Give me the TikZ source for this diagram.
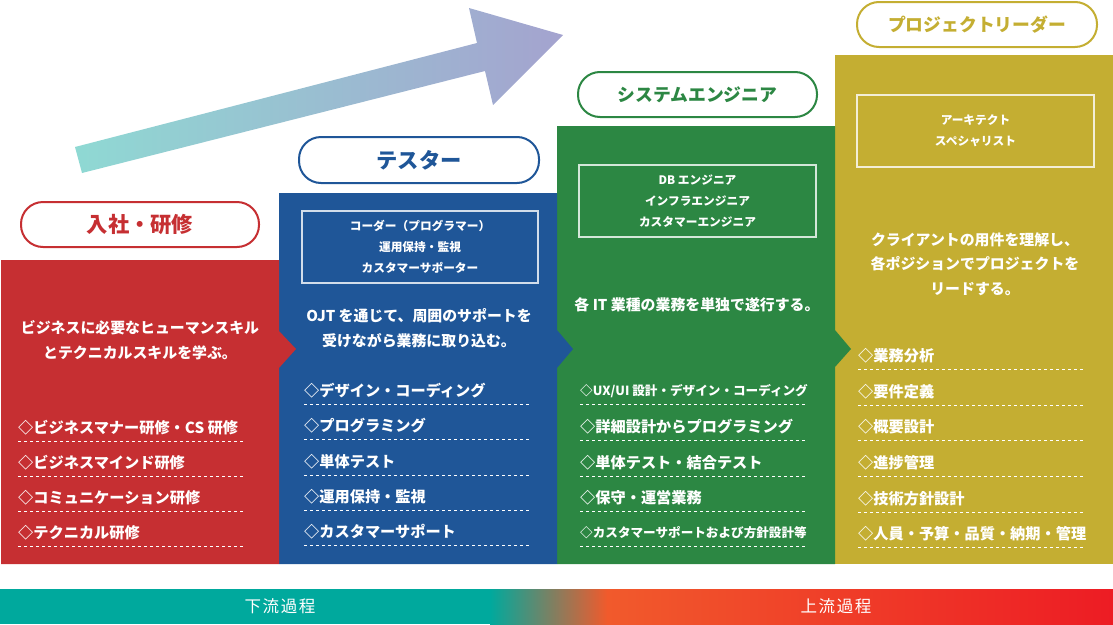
\documentclass[tikz,border=0pt]{standalone}
\usepackage{fontspec}
\setmainfont{Noto Sans CJK JP}
\newcommand\myfs[2]{\fontsize{#1}{#2}\selectfont}
\definecolor{cred}{HTML}{C62F32}
\definecolor{cblue}{HTML}{1F5698}
\definecolor{cgreen}{HTML}{2C8743}
\definecolor{cgold}{HTML}{C4AE32}
\definecolor{ateal}{HTML}{8FD9D3}
\definecolor{alav}{HTML}{A4A3CF}
\definecolor{bteal}{HTML}{00A99D}
\definecolor{borange}{HTML}{F15A2C}
\definecolor{bred}{HTML}{ED1C24}
\tikzset{
  pill/.style={draw=#1, text=#1, fill=white, line width=2pt, rounded corners=22pt,
    minimum width=238pt, minimum height=45pt, inner sep=0pt},
  ibox/.style={draw=white, draw opacity=0.8, line width=1.2pt, minimum width=236pt, minimum height=72pt,
    text=white, align=center, font=\bfseries\myfs{11.7}{21}, inner sep=0pt},
  body/.style={text=white, align=center, font=\bfseries\myfs{14.9}{24.5}, inner sep=0pt},
  itm/.style={text=white, anchor=west, font=\bfseries\myfs{15.2}{18}, inner sep=0pt},
  itms/.style={text=white, anchor=west, font=\bfseries\myfs{12.6}{15}, inner sep=0pt},
  dotline/.style={draw=white, line width=1.5pt, dash pattern=on 3pt off 3pt},
  bartext/.style={text=white, font=\addfontfeature{LetterSpace=10}\myfs{16.5}{18}, inner sep=0pt}
}
\begin{document}
\begin{tikzpicture}[x=1pt,y=-1pt]
\useasboundingbox (0,0) rectangle (1113,624);
% big arrow
\shade[left color=ateal, right color=alav]
  (75,147) -- (477,43) -- (469,8) -- (563,35) -- (493,105) -- (485,71) -- (82,173) -- cycle;
% columns (right to left so chevrons overlay)
\fill[cgold] (835,55) rectangle (1113,564);
\fill[cgreen] (557,126) -- (835,126) -- (835,330) -- (851,349) -- (835,367) -- (835,564) -- (557,564) -- cycle;
\fill[cblue] (279,193) -- (557,193) -- (557,330) -- (573,349) -- (557,368) -- (557,564) -- (279,564) -- cycle;
\fill[cred] (1,260) -- (279,260) -- (279,331) -- (296,349) -- (279,368) -- (279,564) -- (1,564) -- cycle;
% pills
\node[pill=cred, font=\bfseries\myfs{21.3}{24}] (p1) at (140,224.5) {入社・研修};
\node[pill=cblue, font=\bfseries\myfs{21.3}{24}, minimum width=240pt, minimum height=46pt] (p2) at (419,160) {テスター};
\node[pill=cgreen, font=\bfseries\myfs{17.8}{22}, minimum width=239pt] (p3) at (697.5,94.5) {システムエンジニア};
\node[pill=cgold, font=\bfseries\myfs{17.8}{22}, minimum width=240pt] (p4) at (977,24.5) {プロジェクトリーダー};
% inner boxes
\node[ibox] (b2) at (420,247) {コーダー（プログラマー）\\運用保持・監視\\カスタマーサポーター};
\node[ibox, minimum width=237pt] (b3) at (697.5,201) {DB エンジニア\\インフラエンジニア\\カスタマーエンジニア};
\node[ibox, minimum width=237pt] (b4) at (975.5,131) {アーキテクト\\スペシャリスト};
% body texts
\node[body] (t1) at (140,340) {ビジネスに必要なヒューマンスキル\\とテクニカルスキルを学ぶ。};
\node[body] (t2) at (419,328) {OJT を通じて、周囲のサポートを\\受けながら業務に取り込む。};
\node[body] (t3) at (697,305) {各 IT 業種の業務を単独で遂行する。};
\node[body] (t4) at (975,264) {クライアントの用件を理解し、\\各ポジションでプロジェクトを\\リードする。};
% red items
\foreach \y/\t [count=\i] in {428/{◇ビジネスマナー研修・CS 研修},463/{◇ビジネスマインド研修},498/{◇コミュニケーション研修},533/{◇テクニカル研修}}{
  \node[itm] (r\i) at (18,\y) {\t};
  \draw[dotline] (18,\y+13.5) -- (243,\y+13.5);
}
% blue items
\foreach \y/\t [count=\i] in {391/{◇デザイン・コーディング},426/{◇プログラミング},462/{◇単体テスト},497/{◇運用保持・監視},532/{◇カスタマーサポート}}{
  \node[itm] (u\i) at (304,\y) {\t};
  \draw[dotline] (304,\y+13.5) -- (530,\y+13.5);
}
% green items
\node[itms] (g1) at (580,391) {◇UX/UI 設計・デザイン・コーディング};
\node[itm] (g2) at (580,427) {◇詳細設計からプログラミング};
\node[itm] (g3) at (580,463) {◇単体テスト・結合テスト};
\node[itm] (g4) at (580,498) {◇保守・運営業務};
\node[itms] (g5) at (580,533) {◇カスタマーサポートおよび方針設計等};
\foreach \y in {391,427,463,498,533}{
  \draw[dotline] (580,\y+13.5) -- (806,\y+13.5);
}
% gold items
\foreach \y/\t [count=\i] in {356/{◇業務分析},392/{◇要件定義},427/{◇概要設計},463/{◇進捗管理},499/{◇技術方針設計},534/{◇人員・予算・品質・納期・管理}}{
  \node[itm] (o\i) at (858,\y) {\t};
  \draw[dotline] (858,\y+13.5) -- (1083,\y+13.5);
}
% bottom bar
\fill[bteal] (0,589) rectangle (490.5,624);
\shade[left color=bteal, right color=borange] (490,589) rectangle (607.5,624);
\shade[left color=borange, right color=bred] (607,589) rectangle (1113,624);
\node[bartext] (d1) at (280,606.5) {下流過程};
\node[bartext] (d2) at (836,606.5) {上流過程};
\end{tikzpicture}
\end{document}
